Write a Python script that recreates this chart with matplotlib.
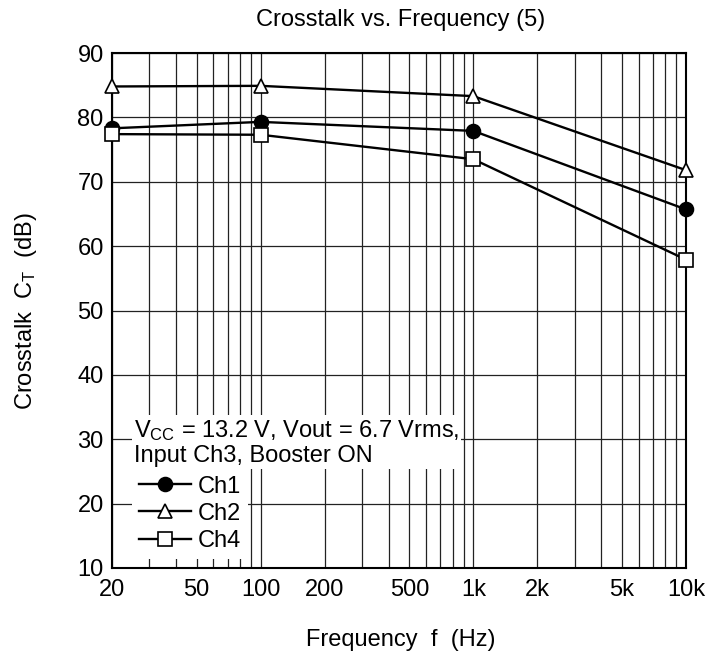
import matplotlib
matplotlib.use("Agg")
import matplotlib.pyplot as plt
from matplotlib.ticker import FixedLocator, NullFormatter, LogLocator

plt.rcParams['font.family'] = ['Liberation Sans', 'DejaVu Sans']
plt.rcParams['mathtext.fontset'] = 'custom'
plt.rcParams['mathtext.rm'] = 'Liberation Sans'
plt.rcParams['mathtext.it'] = 'Liberation Sans'

freq = [20, 100, 1000, 10000]
ch1 = [78.3, 79.3, 77.9, 65.7]
ch2 = [84.8, 84.9, 83.3, 71.8]
ch4 = [77.4, 77.3, 73.5, 57.9]
xticks = [20, 50, 100, 200, 500, 1000, 2000, 5000, 10000]
xticklabels = ['20', '50', '100', '200', '500', '1k', '2k', '5k', '10k']
yticks = [10, 20, 30, 40, 50, 60, 70, 80, 90]

fig = plt.figure(figsize=(7.09, 6.58), dpi=100)
ax = fig.add_axes([112/709, 1 - 568/658, (686-112)/709, (568-53)/658])

ax.set_xscale('log')
ax.set_xlim(20, 10000)
ax.set_ylim(10, 90)
ax.xaxis.set_major_locator(FixedLocator(xticks))
ax.set_xticklabels(xticklabels)
ax.xaxis.set_minor_locator(LogLocator(base=10, subs=range(1, 10)))
ax.xaxis.set_minor_formatter(NullFormatter())
ax.set_yticks(yticks)
ax.tick_params(which='both', length=0, labelsize=17)
ax.tick_params(axis='x', pad=8)
ax.tick_params(axis='y', pad=6)

ax.grid(True, which='both', axis='x', color='#222222', lw=0.9)
ax.grid(True, which='major', axis='y', color='#222222', lw=0.9)
ax.set_axisbelow(True)
for s in ax.spines.values():
    s.set_linewidth(1.5)
    s.set_color('black')

kw = dict(color='black', lw=1.7, markersize=10, markeredgewidth=1.2, clip_on=False, zorder=5)
ax.plot(freq, ch1, marker='o', markerfacecolor='black', label='Ch1', **kw)
ax.plot(freq, ch2, marker='^', markerfacecolor='white', label='Ch2', **kw)
ax.plot(freq, ch4, marker='s', markerfacecolor='white', label='Ch4', **kw)

ax.text(0.038, 0.291, '$\\mathrm{V_{CC}}$ = 13.2 V, Vout = 6.7 Vrms,\nInput Ch3, Booster ON',
        transform=ax.transAxes, fontsize=17, va='top', ha='left', linespacing=1.12,
        bbox=dict(facecolor='white', edgecolor='none', pad=1.5), zorder=6)

leg = ax.legend(loc='upper left', bbox_to_anchor=(0.022, 0.207), frameon=True, fontsize=17,
                handlelength=2.2, handletextpad=0.3, labelspacing=0.22, borderpad=0.3,
                borderaxespad=0.3)
leg.get_frame().set_facecolor('white')
leg.get_frame().set_edgecolor('none')
leg.get_frame().set_alpha(1)
leg.set_zorder(6)

fig.text(401/709, 1 - 20/658, 'Crosstalk vs. Frequency (5)', ha='center', va='center', fontsize=17)
fig.text(401/709, 1 - 640/658, 'Frequency  f  (Hz)', ha='center', va='center', fontsize=17)
fig.text(26/709, 1 - 311/658, 'Crosstalk  C$_\\mathrm{T}$  (dB)', ha='center', va='center',
         rotation=90, fontsize=17)

fig.savefig('out.png', dpi=100)
